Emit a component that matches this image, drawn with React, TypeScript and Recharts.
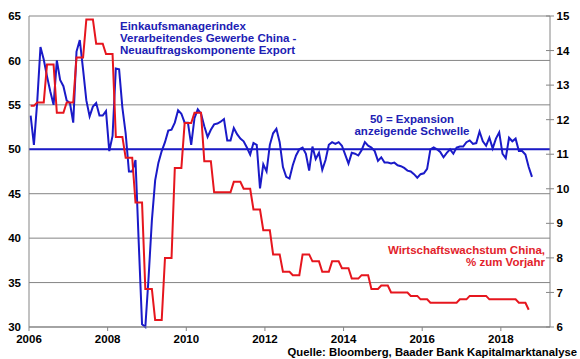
import React from "react";
import { LineChart, Line, XAxis, YAxis, CartesianGrid, ReferenceLine } from "recharts";

const FONT = '"Liberation Sans", Arial, Helvetica, sans-serif';

// PMI manufacturing China, new export orders, monthly Jan 2006 .. Oct 2018
const pmiExport = [
  53.8, 50.5, 55.3, 61.5, 60.1, 58.2, 56.5, 55.0, 60.0, 57.8, 57.1, 55.5,
  55.2, 53.0, 61.0, 62.3, 59.0, 55.5, 53.7, 54.8, 55.2, 53.8, 53.8, 54.3,
  49.8, 51.5, 59.1, 59.0, 54.7, 51.8, 47.5, 47.5, 48.8, 39.4, 30.3, 30.0,
  35.6, 42.0, 46.5, 48.5, 49.8, 50.8, 52.1, 52.2, 53.0, 54.4, 54.0, 53.0,
  53.0, 50.5, 53.5, 54.5, 54.0, 52.6, 51.4, 52.2, 52.8, 52.9, 53.1, 53.4,
  51.0, 51.0, 52.4, 51.7, 51.2, 50.9, 50.2, 49.4, 50.7, 50.5, 45.6, 48.3,
  47.5, 50.5, 51.8, 52.3, 50.8, 48.0, 46.9, 46.7, 48.2, 49.3, 50.0, 50.2,
  49.5, 47.6, 50.3, 48.9, 49.6, 47.7, 48.8, 50.5, 50.8, 50.6, 50.8, 50.4,
  49.4, 48.4, 49.6, 49.5, 49.3, 49.9, 50.8, 50.4, 50.2, 49.8, 48.7, 49.1,
  48.5, 48.5, 48.4, 48.5, 48.2, 48.1, 47.9, 47.6, 47.5, 47.2, 46.8, 47.2,
  47.3, 47.8, 50.0, 50.2, 50.0, 49.7, 49.1, 49.6, 50.0, 49.5, 50.2, 50.3,
  50.3, 50.8, 51.0, 50.6, 50.7, 52.0, 50.9, 50.4, 51.3, 50.1, 51.2, 51.9,
  49.5, 49.0, 51.3, 50.9, 51.2, 49.8, 49.8, 49.4, 48.0, 46.9,
];

// China GDP growth y/y, quarterly, Q4 2005 .. Q3 2018 (shown from the quarter-end month on)
const gdpGrowth = [
  12.4, 12.5, 13.6, 12.2, 12.5, 13.8, 14.9, 14.2, 13.9, 11.5, 10.9, 9.6, 7.1,
  6.2, 8.0, 10.6, 11.9, 12.2, 10.8, 9.9, 9.9, 10.2, 10.0, 9.4, 8.8, 8.1, 7.6,
  7.5, 8.1, 7.9, 7.6, 7.9, 7.7, 7.4, 7.5, 7.1, 7.2, 7.0, 7.0, 6.9, 6.8, 6.7,
  6.7, 6.7, 6.8, 6.9, 6.9, 6.8, 6.8, 6.8, 6.7, 6.5,
];
const gdpLastMonth = 152; // Sep 2018

const startYear = 2006;
const yearLabels = [2006, 2008, 2010, 2012, 2014, 2016, 2018];
const pmiTicks = [30, 35, 40, 45, 50, 55, 60, 65];
const gdpTicks = [6, 7, 8, 9, 10, 11, 12, 13, 14, 15];
const threshold = 50;

const data = pmiExport.map((v, i) => ({
  t: i + 0.5,
  pmi: v,
  gdp: i <= gdpLastMonth ? gdpGrowth[Math.floor((i + 1) / 3)] : null,
}));

const BLUE = "#1a1ac8";
const BLUE_TEXT = "#2020b4";
const RED = "#e6161e";
const RED_TEXT = "#e2232b";
const GRID = "#858585";

const tickStyle = { fontSize: 11.5, fontWeight: 700, fill: "#000", fontFamily: FONT };

const RightTick = (props: any) => {
  const { x, y, payload } = props;
  return (
    <g>
      <line x1={x - 4} x2={x + 4} y1={y} y2={y} stroke={GRID} strokeWidth={1} />
      <text x={x + 6.5} y={y} dy="0.355em" textAnchor="start" style={tickStyle}>
        {payload.value}
      </text>
    </g>
  );
};

export default function App() {
  return (
    <div
      style={{
        position: "absolute",
        left: 0,
        top: 0,
        width: 580,
        height: 359,
        background: "#fff",
        fontFamily: FONT,
      }}
    >
      <LineChart
        width={580}
        height={359}
        data={data}
        margin={{ top: 16, right: 0, bottom: 0, left: 0 }}
      >
        <CartesianGrid yAxisId="pmi" vertical={false} stroke={GRID} strokeWidth={1} />
        <XAxis
          dataKey="t"
          type="number"
          domain={[0, 159]}
          allowDataOverflow
          ticks={yearLabels.map((y) => (y - startYear) * 12)}
          tickFormatter={(v: number) => String(startYear + v / 12)}
          interval={0}
          height={32}
          stroke={GRID}
          tickSize={4}
          tickMargin={4}
          tick={tickStyle}
        />
        <YAxis
          yAxisId="pmi"
          domain={[30, 65]}
          ticks={pmiTicks}
          interval={0}
          width={29}
          stroke={GRID}
          tickLine={false}
          tickSize={6}
          tickMargin={2}
          tick={tickStyle}
        />
        <YAxis
          yAxisId="gdp"
          orientation="right"
          domain={[6, 15]}
          ticks={gdpTicks}
          interval={0}
          width={30}
          stroke={GRID}
          tickLine={false}
          tickSize={0}
          tickMargin={0}
          tick={RightTick}
        />
        <ReferenceLine yAxisId="pmi" y={threshold} stroke={BLUE} strokeWidth={2} />
        <Line
          yAxisId="pmi"
          dataKey="pmi"
          type="linear"
          stroke={BLUE}
          strokeWidth={2}
          dot={false}
          isAnimationActive={false}
        />
        <Line
          yAxisId="gdp"
          dataKey="gdp"
          type="linear"
          stroke={RED}
          strokeWidth={2}
          dot={false}
          isAnimationActive={false}
        />
      </LineChart>
      <svg
        width={580}
        height={359}
        style={{ position: "absolute", left: 0, top: 0, pointerEvents: "none" }}
      >
        <g style={{ fontFamily: FONT, fontWeight: 700, fontSize: 11.5 }}>
          <text x={120} y={29.5} fill={BLUE_TEXT}>Einkaufsmanagerindex</text>
          <text x={120} y={41.8} fill={BLUE_TEXT}>Verarbeitendes Gewerbe China -</text>
          <text x={120} y={54.1} fill={BLUE_TEXT}>Neuauftragskomponente Export</text>
          <text x={412} y={122.7} fill={BLUE_TEXT} textAnchor="middle">50 = Expansion</text>
          <text x={412} y={135} fill={BLUE_TEXT} textAnchor="middle">anzeigende Schwelle</text>
          <text x={545} y={254} fill={RED_TEXT} textAnchor="end">Wirtschaftswachstum China,</text>
          <text x={545} y={266.4} fill={RED_TEXT} textAnchor="end">% zum Vorjahr</text>
          <text x={577} y={355.7} fill="#000" textAnchor="end" style={{ fontSize: 11.3 }}>
            Quelle: Bloomberg, Baader Bank Kapitalmarktanalyse
          </text>
        </g>
      </svg>
    </div>
  );
}
